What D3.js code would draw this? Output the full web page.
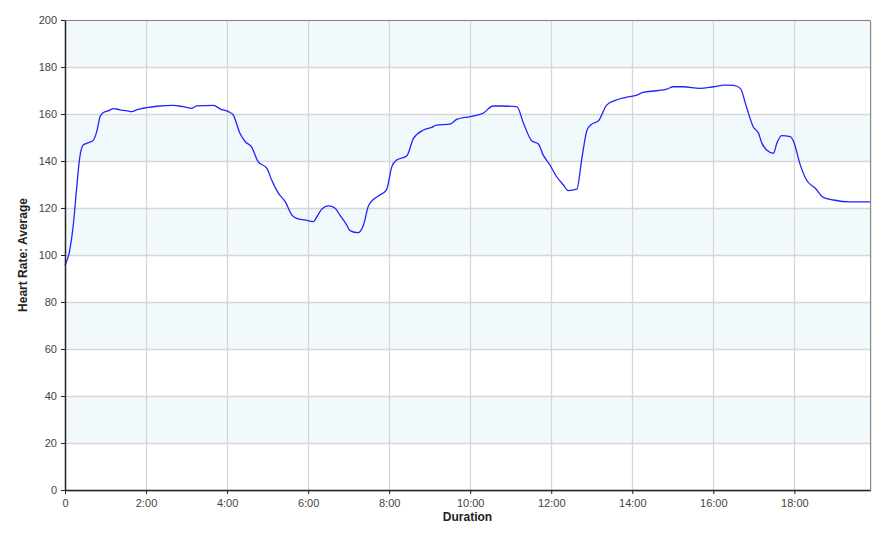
<!DOCTYPE html>
<html><head><meta charset="utf-8">
<script src="https://cdn.jsdelivr.net/npm/d3@7"></script>
<style>body{margin:0;background:#fff}svg{display:block;font-family:"Liberation Sans",Arial,sans-serif}</style>
</head><body><svg id="c" width="883" height="536"></svg>
<script>
const timeSec = [0,7,12,17,22,27,35,42,47,52,57,64,72,81,91,99,106,121,136,160,175,188,195,220,230,242,249,259,267,276,286,299,306,316,326,336,343,355,368,373,380,390,400,407,417,422,434,442,449,457,466,476,484,491,506,516,531,543,550,570,580,600,619,634,644,669,679,691,701,708,718,728,738,745,758,765,773,780,790,802,814,829,847,856,876,891,901,916,940,960,977,990,1000,1009,1019,1027,1032,1039,1049,1054,1061,1074,1079,1088,1098,1111,1123,1138,1162,1192];
const heartRate = [95.7,102,112,127.7,141.8,146.8,147.8,148.9,152.5,158.9,160.6,161.3,162.3,161.8,161.4,161.0,161.8,162.7,163.3,163.7,163.1,162.4,163.5,163.7,162.1,161.0,159.6,151.8,148.2,146.1,139.7,136.9,131.9,126.3,122.7,117.0,115.6,114.9,114.2,116.3,119.4,120.9,119.9,117.0,112.8,110.4,109.5,112.8,120.6,123.7,125.5,127.7,137.6,140.4,142.1,149.6,153.2,154.3,155.3,155.7,157.7,158.9,160.3,163.4,163.4,163.1,156.0,148.6,147.2,142.6,138.3,133.3,129.8,127.4,128.0,140.4,153.2,155.7,157.1,163.8,165.7,167.0,168.0,169.2,169.9,170.6,171.6,171.6,170.9,171.6,172.3,172.2,170.9,163.1,154.6,151.8,147.5,144.7,143.3,147.5,150.8,150.4,148.2,139.0,131.9,128.4,124.5,123.4,122.6,122.6];
const xTicks = [0,120,240,360,480,600,720,840,960,1080];
const xTickLabels = ["0","2:00","4:00","6:00","8:00","10:00","12:00","14:00","16:00","18:00"];
const yTicks = [0,20,40,60,80,100,120,140,160,180,200];

const svg = d3.select("#c");
const L=65,T=20,R=870,B=490;
const x = d3.scaleLinear().domain([0,1192]).range([L,R]);
const y = d3.scaleLinear().domain([0,200]).range([B,T]);

// shadow
svg.append("rect").attr("x",L+2).attr("y",T+2).attr("width",R-L).attr("height",B-T).attr("fill","#e8e8e8");
svg.append("rect").attr("x",L).attr("y",T).attr("width",R-L).attr("height",B-T).attr("fill","#fff");
// bands
const bands = yTicks.slice(0,-1).filter((d,i)=>i%2===1);
svg.selectAll(".band").data(bands).join("rect")
  .attr("x",L).attr("width",R-L)
  .attr("y",d=>y(d+20)).attr("height",d=>y(d)-y(d+20))
  .attr("fill","#f2f9fd");
// grid
svg.selectAll(".hg").data(yTicks.slice(1)).join("line")
  .attr("x1",L).attr("x2",R).attr("y1",d=>y(d)+0.5).attr("y2",d=>y(d)+0.5)
  .attr("stroke","#d6d6d6").attr("stroke-width",1.3);
svg.selectAll(".vg").data(xTicks.slice(1)).join("line")
  .attr("y1",T).attr("y2",B).attr("x1",d=>Math.round(x(d))+0.5).attr("x2",d=>Math.round(x(d))+0.5)
  .attr("stroke","#d6d6d6").attr("stroke-width",1.3);
// border top/right
svg.append("path").attr("d",`M${L},${T+0.5}H${R+0.5}V${B}`).attr("fill","none").attr("stroke","#888").attr("stroke-width",1);

// line
const pts = timeSec.map((t,i)=>[t,heartRate[i]]);
svg.append("path").datum(pts)
  .attr("d",d3.line().x(d=>x(d[0])).y(d=>y(d[1])).curve(d3.curveMonotoneX))
  .attr("fill","none").attr("stroke","#2222ff").attr("stroke-width",1.3);

// axes
const xAxis = d3.axisBottom(x).tickValues(xTicks).tickFormat((d,i)=>xTickLabels[i]).tickSize(4).tickSizeOuter(0);
const gx = svg.append("g").attr("transform",`translate(0,${B})`).call(xAxis);
const yAxis = d3.axisLeft(y).tickValues(yTicks).tickSize(4).tickSizeOuter(0);
const gy = svg.append("g").attr("transform",`translate(${L},0)`).call(yAxis);
[gx,gy].forEach(g=>{
  g.select(".domain").attr("stroke","#222").attr("stroke-width",1.5);
  g.selectAll(".tick line").attr("stroke","#222");
  g.selectAll(".tick text").attr("fill","#444").attr("font-size","11px").attr("font-family","Liberation Sans, Arial, sans-serif");
});
gx.selectAll(".tick text").attr("dy","0.9em");
gy.selectAll(".tick text").attr("dx","-1px");

svg.append("text").attr("x",(L+R)/2).attr("y",521).attr("text-anchor","middle")
  .attr("font-size","12px").attr("font-weight","bold").attr("fill","#222").text("Duration");
svg.append("text").attr("transform",`translate(27,${(T+B)/2}) rotate(-90)`).attr("text-anchor","middle")
  .attr("font-size","12px").attr("font-weight","bold").attr("fill","#222").text("Heart Rate: Average");
</script></body></html>
